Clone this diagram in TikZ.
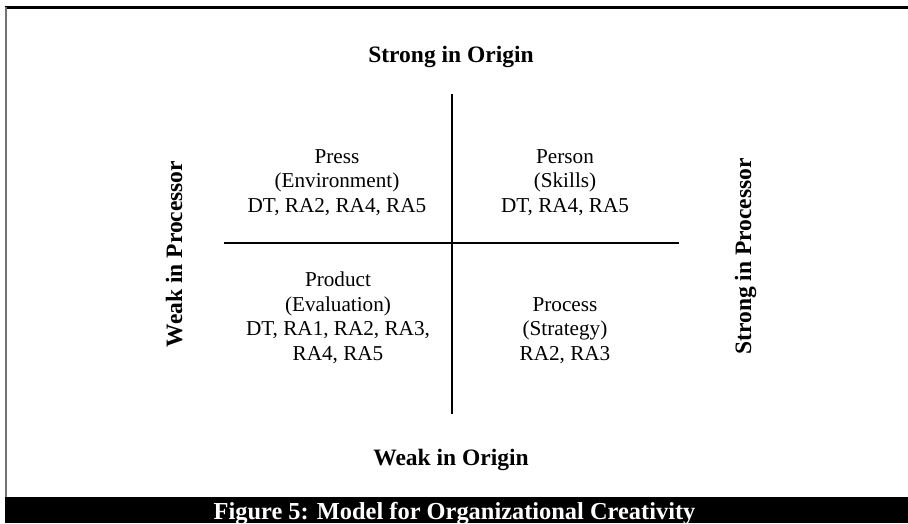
\documentclass[tikz,border=0pt]{standalone}
\usepackage{fontspec}
\setmainfont{Liberation Serif}
\begin{document}
\begin{tikzpicture}[x=1pt,y=1pt,
  axisline/.style={line width=1.9pt,black},
  axislabel/.style={font=\fontsize{23.5}{28}\selectfont\bfseries,anchor=base,inner sep=0pt},
  quadtext/.style={font=\fontsize{21.2}{24.5}\selectfont,align=center,anchor=base,inner sep=0pt},
  captiontext/.style={font=\fontsize{24.4}{28}\selectfont\bfseries,text=white,anchor=base,inner sep=0pt}]
  % canvas
  \useasboundingbox (0,0) rectangle (908,-523);
  \fill[white] (0,0) rectangle (908,-523);
  % frame: heavy rule on top, thin grey rule on the left
  \draw[line width=2.5pt,black] (5,-7.7) -- (908,-7.7);
  \draw[line width=1.6pt,black!55] (6,-7) -- (6,-497);
  % caption bar
  \fill[black] (5,-497) rectangle (908,-523);
  \node[captiontext] (caption) at (454.5,-519.5) {Figure 5: Model for Organizational Creativity};

  % axes of the quadrant
  \coordinate (vtop) at (452,-94);
  \coordinate (vbot) at (452,-414);
  \coordinate (hleft) at (224,-243);
  \coordinate (hright) at (679,-243);
  \draw[axisline] (vtop) -- (vbot);
  \draw[axisline] (hleft) -- (hright);

  % axis labels
  \node[axislabel] (strongorigin) at (451,-62) {Strong in Origin};
  \node[axislabel] (weakorigin) at (451,-465) {Weak in Origin};
  \node[axislabel,rotate=90] (weakproc) at (182,-254) {Weak in Processor};
  \node[axislabel,rotate=90] (strongproc) at (751,-256.5) {Strong in Processor};

  % quadrants
  \node[quadtext] (press) at (337,-212) {Press\\(Environment)\\DT, RA2, RA4, RA5};
  \node[quadtext] (person) at (565,-212) {Person\\(Skills)\\DT, RA4, RA5};
  \node[quadtext] (product) at (338,-360) {Product\\(Evaluation)\\DT, RA1, RA2, RA3,\\RA4, RA5};
  \node[quadtext] (process) at (565,-360) {Process\\(Strategy)\\RA2, RA3};
\end{tikzpicture}
\end{document}
